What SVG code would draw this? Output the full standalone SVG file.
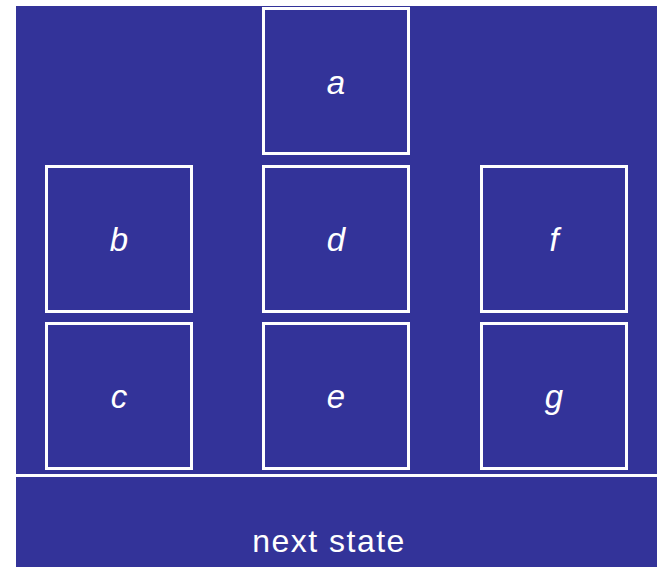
<svg xmlns="http://www.w3.org/2000/svg" width="657" height="567" viewBox="0 0 657 567">
<style>
.box{fill:#333399;stroke:#ffffff;stroke-width:3}
.lbl{font-family:"Liberation Sans",Arial,sans-serif;font-style:italic;font-size:33px;fill:#ffffff;text-anchor:middle}
.cap{font-family:"Liberation Sans",Arial,sans-serif;font-size:32px;letter-spacing:1.5px;fill:#ffffff;text-anchor:middle}
</style>
<rect x="16" y="6" width="641" height="561" fill="#333399"/>
<g id="node-a"><rect class="box" x="263.5" y="8.5" width="145" height="145"/><text class="lbl" x="336" y="94">a</text></g>
<g id="node-b"><rect class="box" x="46.5" y="166.5" width="145" height="145"/><text class="lbl" x="119" y="251">b</text></g>
<g id="node-d"><rect class="box" x="263.5" y="166.5" width="145" height="145"/><text class="lbl" x="336" y="251">d</text></g>
<g id="node-f"><rect class="box" x="481.5" y="166.5" width="145" height="145"/><text class="lbl" x="554" y="251">f</text></g>
<g id="node-c"><rect class="box" x="46.5" y="323.5" width="145" height="145"/><text class="lbl" x="119" y="408">c</text></g>
<g id="node-e"><rect class="box" x="263.5" y="323.5" width="145" height="145"/><text class="lbl" x="336" y="408">e</text></g>
<g id="node-g"><rect class="box" x="481.5" y="323.5" width="145" height="145"/><text class="lbl" x="554" y="408">g</text></g>
<g id="connectors"><line x1="16" y1="475.5" x2="657" y2="475.5" stroke="#ffffff" stroke-width="3"/></g>
<g id="caption"><text class="cap" x="329" y="552">next state</text></g>
</svg>
